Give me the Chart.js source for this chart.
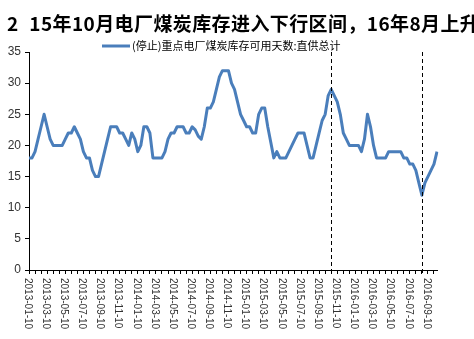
<!DOCTYPE html>
<html>
<head>
<meta charset="utf-8">
<script src="https://cdn.jsdelivr.net/npm/chart.js@4/dist/chart.umd.min.js"></script>
<style>
  body { margin: 0; background: #fff; }
  #wrap { position: relative; width: 474px; height: 339px; overflow: hidden; }
  #title {
    position: absolute; left: 7px; top: 9px; line-height: 24px;
    font: bold 19px "Noto Sans CJK SC", "Liberation Sans", sans-serif;
    letter-spacing: 0.4px;
    white-space: nowrap; color: #000;
  }
</style>
</head>
<body>
<div id="wrap">
  <canvas id="myChart" width="474" height="339"></canvas>
  <div id="title"><span style="margin-right:6px">2</span> 15年10月电厂煤炭库存进入下行区间，16年8月上升</div>
</div>
<script>
const seriesName = "(停止)重点电厂煤炭库存可用天数:直供总计";

// 旬度数据, 2013-01-10 起
const stockDays = [
  18, 18, 19, 21, 23, 25, 23, 21, 20, 20,
  20, 20, 21, 22, 22, 23, 22, 21, 19, 18,
  18, 16, 15, 15, 17, 19, 21, 23, 23, 23,
  22, 22, 21, 20, 22, 21, 19, 20, 23, 23,
  22, 18, 18, 18, 18, 19, 21, 22, 22, 23,
  23, 23, 22, 22, 23, 22.5, 21.5, 21, 23, 26,
  26, 27, 29, 31, 32, 32, 32, 30, 29, 27,
  25, 24, 23, 23, 22, 22, 25, 26, 26, 23,
  20.5, 18, 19, 18, 18, 18, 19, 20, 21, 22,
  22, 22, 20, 18, 18, 20, 22, 24, 25, 28,
  29, 28, 27, 25, 22, 21, 20, 20, 20, 20,
  19, 21, 25, 23, 20, 18, 18, 18, 18, 19,
  19, 19, 19, 19, 18, 18, 17, 17, 16, 14,
  12, 14, 15, 16, 17, 19
];

const tickLabels = [
  "2013-01-10", "2013-03-10", "2013-05-10", "2013-07-10", "2013-09-10", "2013-11-10",
  "2014-01-10", "2014-03-10", "2014-05-10", "2014-07-10", "2014-09-10", "2014-11-10",
  "2015-01-10", "2015-03-10", "2015-05-10", "2015-07-10", "2015-09-10", "2015-11-10",
  "2016-01-10", "2016-03-10", "2016-05-10", "2016-07-10", "2016-09-10"
];

const markerDates = ["2015-10-20", "2016-08-20"];

const yTicks = [0, 5, 10, 15, 20, 25, 30, 35];

// category dates: 10th, 20th, month end
const dates = [];
for (let y = 2013; y <= 2016; y++) {
  for (let m = 1; m <= 12; m++) {
    const last = new Date(y, m, 0).getDate();
    [10, 20, last].forEach(function (d) {
      if (dates.length < stockDays.length) {
        dates.push(y + "-" + String(m).padStart(2, "0") + "-" + String(d).padStart(2, "0"));
      }
    });
  }
}

const extras = {
  id: "extras",
  afterDatasetsDraw(chart) {
    const ctx = chart.ctx;
    const xs = chart.scales.x;
    const area = chart.chartArea;
    ctx.save();
    ctx.strokeStyle = "#000";
    ctx.lineWidth = 1;
    ctx.setLineDash([4, 3]);
    markerDates.forEach(function (d) {
      const x = Math.round(xs.getPixelForValue(dates.indexOf(d))) + 0.5;
      ctx.beginPath();
      ctx.moveTo(x, area.top);
      ctx.lineTo(x, area.bottom + 4);
      ctx.stroke();
    });
    ctx.restore();
  },
  afterDraw(chart) {
    const ctx = chart.ctx;
    const xs = chart.scales.x;
    ctx.save();
    // x labels, rotated clockwise
    ctx.fillStyle = "#333";
    ctx.font = '10px "Liberation Sans", Arial, sans-serif';
    ctx.textAlign = "left";
    ctx.textBaseline = "middle";
    dates.forEach(function (d, i) {
      if (tickLabels.indexOf(d) < 0) return;
      const x = xs.getPixelForValue(i) - 1.5;
      ctx.save();
      ctx.translate(x, chart.chartArea.bottom + 8);
      ctx.rotate(Math.PI / 2);
      ctx.fillText(d, 0, 0);
      ctx.restore();
    });
    // legend
    const ds = chart.data.datasets[0];
    ctx.strokeStyle = ds.borderColor;
    ctx.lineWidth = 3;
    ctx.beginPath();
    ctx.moveTo(102, 46);
    ctx.lineTo(130, 46);
    ctx.stroke();
    ctx.fillStyle = "#000";
    ctx.font = '11px "Noto Sans CJK SC", sans-serif';
    ctx.fillText(ds.label, 132, 46);
    ctx.restore();
  }
};

const config = {
  type: "line",
  data: {
    labels: dates,
    datasets: [
      {
        label: seriesName,
        data: stockDays,
        borderColor: "#4a7ebb",
        backgroundColor: "#4a7ebb",
        borderWidth: 3,
        pointRadius: 0,
        tension: 0,
        fill: false,
        borderJoinStyle: "round",
      },
    ],
  },
  options: {
    responsive: false,
    animation: false,
    layout: { padding: { left: 0, right: 37, top: 52, bottom: 0 } },
    plugins: {
      tooltip: { enabled: false },
      legend: { display: false },
    },
    scales: {
      x: {
        type: "category",
        offset: false,
        ticks: { display: false, autoSkip: false },
        grid: {
          display: true,
          drawOnChartArea: false,
          drawTicks: true,
          tickLength: 4,
          tickColor: function (c) {
            return c.index % 2 === 0 ? "#000" : "rgba(0,0,0,0)";
          },
        },
        border: { display: true, color: "#000", width: 1 },
        afterFit: function (scale) {
          scale.height = 69;
        },
      },
      y: {
        min: 0,
        max: 35,
        afterBuildTicks: function (scale) {
          scale.ticks = yTicks.map(function (v) { return { value: v }; });
        },
        ticks: {
          color: "#333",
          padding: 4,
          font: { size: 12, family: '"Liberation Sans", Arial, sans-serif' },
        },
        grid: {
          display: true,
          drawOnChartArea: false,
          drawTicks: true,
          tickLength: 4,
          tickColor: "#000",
        },
        border: { display: true, color: "#000", width: 1 },
        afterFit: function (scale) {
          scale.width = 29;
        },
      },
    },
  },
  plugins: [extras],
};

const myChart = new Chart(document.getElementById("myChart"), config);
</script>
</body>
</html>
